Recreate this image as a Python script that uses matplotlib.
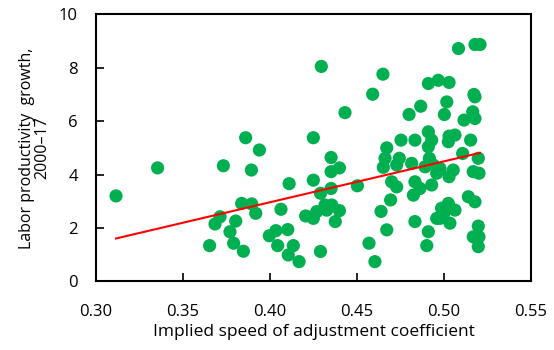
import numpy as np
import matplotlib
matplotlib.use("Agg")
import matplotlib.pyplot as plt

# Implied speed of adjustment coefficient vs. labor productivity growth, 2000-17
speed = [
    0.3115, 0.3354, 0.3732, 0.3860, 0.3939, 0.3893, 0.4110, 0.4249, 0.4249, 0.4295,
    0.3837, 0.3895, 0.3918, 0.3713, 0.3684, 0.3803, 0.3770, 0.3653, 0.3791, 0.3847,
    0.4063, 0.3996, 0.4034, 0.4102, 0.4044, 0.4134, 0.4105, 0.4167, 0.4205, 0.4249,
    0.4268, 0.4290, 0.4290, 0.4351, 0.4399, 0.4351, 0.4351, 0.4431, 0.4502, 0.4316,
    0.4355, 0.4399, 0.4375, 0.4326, 0.4590, 0.4649, 0.4569, 0.4603, 0.4638, 0.4671,
    0.4693, 0.4671, 0.4661, 0.4651, 0.4699, 0.4728, 0.4743, 0.4728, 0.4753, 0.4799,
    0.4866, 0.4833, 0.4814, 0.4833, 0.4824, 0.4862, 0.4833, 0.4910, 0.4929, 0.4910,
    0.4916, 0.4891, 0.4939, 0.4929, 0.4910, 0.4967, 0.5029, 0.5016, 0.5002, 0.5029,
    0.5063, 0.5025, 0.4977, 0.5029, 0.5053, 0.4958, 0.4910, 0.4901, 0.4958, 0.4986,
    0.5025, 0.5063, 0.5034, 0.4977, 0.5000, 0.5083, 0.5178, 0.5207, 0.5172, 0.5178,
    0.5165, 0.5115, 0.5178, 0.5153, 0.5107, 0.5197, 0.5168, 0.5201, 0.5140, 0.5178,
    0.5197, 0.5168, 0.5201, 0.5197,
]
growth = [
    3.20, 4.25, 4.33, 5.38, 4.92, 4.17, 3.66, 5.38, 3.79, 8.05,
    2.92, 2.90, 2.55, 2.42, 2.15, 2.26, 1.86, 1.34, 1.43, 1.13,
    2.70, 1.71, 1.90, 1.94, 1.34, 1.34, 0.99, 0.74, 2.45, 2.36,
    2.61, 3.30, 1.12, 4.64, 4.25, 4.11, 3.48, 6.32, 3.58, 2.86,
    2.86, 2.65, 2.24, 2.67, 7.01, 7.76, 1.43, 0.74, 2.62, 1.93,
    3.05, 5.00, 4.61, 4.27, 3.73, 3.54, 4.61, 4.36, 5.29, 6.25,
    6.56, 5.29, 4.42, 3.73, 3.23, 3.48, 2.24, 5.60, 5.29, 5.04,
    4.61, 4.29, 4.36, 3.61, 7.41, 7.53, 7.45, 6.72, 6.25, 5.44,
    5.48, 5.23, 4.23, 3.92, 4.17, 4.05, 1.86, 1.34, 2.36, 2.74,
    2.92, 2.67, 2.18, 2.36, 2.55, 8.72, 8.87, 8.87, 7.00, 6.91,
    6.35, 6.04, 6.10, 5.29, 4.79, 4.61, 4.11, 4.05, 3.17, 2.98,
    2.07, 1.67, 1.67, 1.30,
]

x_ticks = [0.30, 0.35, 0.40, 0.45, 0.50, 0.55]
y_ticks = [0, 2, 4, 6, 8, 10]

plt.rcParams["font.family"] = ["Open Sans", "DejaVu Sans"]

fig = plt.figure(figsize=(5.54, 3.50), dpi=100)
ax = fig.add_axes([0.1733, 0.196, 0.7852, 0.763])

x = np.array(speed)
y = np.array(growth)
ax.scatter(x, y, s=90, color="#00B050", edgecolors="none", zorder=2)

# least-squares trend line across the range of the data
slope, intercept = np.polyfit(x, y, 1)
xl = np.array([x.min(), x.max()])
ax.plot(xl, slope * xl + intercept, color="#FF0000", lw=1.5, zorder=3)

ax.set_xlim(0.30, 0.55)
ax.set_ylim(0, 10)
ax.set_xticks(x_ticks)
ax.set_xticklabels([f"{t:.2f}" for t in x_ticks])
ax.set_yticks(y_ticks)
ax.tick_params(direction="in", length=6, width=1.2, labelsize=12,
               colors="black")
ax.tick_params(axis="x", pad=16)
ax.tick_params(axis="y", pad=13)
for sp in ax.spines.values():
    sp.set_linewidth(1.5)
    sp.set_color("black")

ax.set_xlabel("Implied speed of adjustment coefficient", fontsize=12.5,
              labelpad=3)
ax.set_ylabel("Labor productivity  growth,\n2000\u201317", fontsize=11.5,
              labelpad=6, linespacing=1.0, multialignment="center")

fig.savefig("out.png", dpi=100)
